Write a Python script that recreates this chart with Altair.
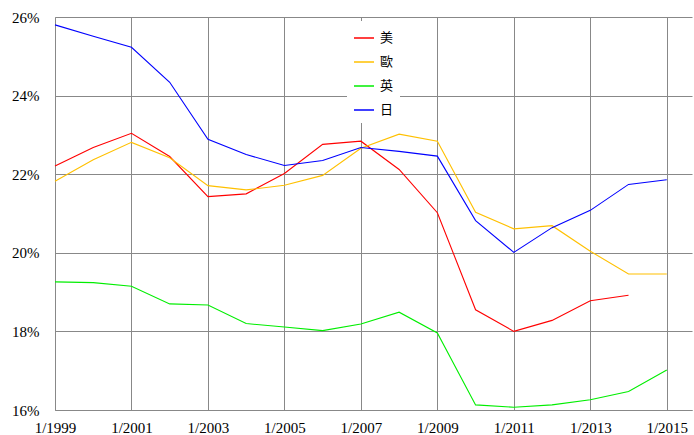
import altair as alt
import pandas as pd

years = list(range(1999, 2016))
series_names = ["美", "歐", "英", "日"]
colors = ["#ff0000", "#ffc000", "#00ee00", "#0000ff"]

us = [22.21, 22.68, 23.04, 22.45, 21.43, 21.50, 22.02, 22.76, 22.84, 22.12, 21.02, 18.55, 18.00, 18.28, 18.78, 18.92, None]
eu = [21.82, 22.37, 22.81, 22.42, 21.71, 21.60, 21.72, 21.97, 22.66, 23.02, 22.84, 21.03, 20.61, 20.69, 20.04, 19.46, 19.46]
uk = [19.26, 19.24, 19.15, 18.70, 18.67, 18.20, 18.11, 18.02, 18.19, 18.49, 17.96, 16.13, 16.07, 16.13, 16.26, 16.47, 17.02]
jp = [25.80, 25.51, 25.23, 24.34, 22.89, 22.50, 22.22, 22.35, 22.68, 22.58, 22.46, 20.82, 20.01, 20.64, 21.08, 21.74, 21.86]

x_ticks = [1999, 2001, 2003, 2005, 2007, 2009, 2011, 2013, 2015]
y_ticks = [16, 18, 20, 22, 24, 26]

rows = []
for name, vals in zip(series_names, [us, eu, uk, jp]):
    for y, v in zip(years, vals):
        if v is not None:
            rows.append({"year": y, "series": name, "value": v})
df = pd.DataFrame(rows)

axis_style = dict(gridColor="#888888", gridWidth=1, gridOpacity=1,
                  domainColor="#888888", domainWidth=1,
                  labelFont="Liberation Serif", labelColor="#000000", title=None,
                  grid=True, ticks=False)

chart = alt.Chart(df).mark_line(strokeWidth=1.1).encode(
    x=alt.X("year:Q",
            scale=alt.Scale(domain=[1999, 2015.66], nice=False, zero=False),
            axis=alt.Axis(values=x_ticks, labelExpr="'1/' + datum.value",
                          labelPadding=10, labelFontSize=15, labelFlush=False,
                          **axis_style)),
    y=alt.Y("value:Q",
            scale=alt.Scale(domain=[16, 26], nice=False, zero=False),
            axis=alt.Axis(values=y_ticks, labelExpr="datum.value + '%'",
                          labelPadding=16, labelFontSize=15, **axis_style)),
    color=alt.Color("series:N",
                    scale=alt.Scale(domain=series_names, range=colors),
                    legend=alt.Legend(title=None, orient="none", legendX=292, legendY=4,
                                      fillColor="white", padding=6, symbolType="stroke",
                                      symbolSize=400, symbolStrokeWidth=1.5,
                                      labelFont="Noto Sans CJK TC", labelFontSize=13,
                                      labelColor="#000000",
                                      rowPadding=6, labelOffset=5)),
    order=alt.Order("year:Q"),
).properties(
    width=637, height=393,
    background="white",
    autosize=alt.AutoSizeParams(type="none"),
    padding={"left": 55, "top": 17, "right": 2, "bottom": 25},
).configure_view(stroke=None)

chart.save("out.html", embed_options={"renderer": "svg", "actions": False})
